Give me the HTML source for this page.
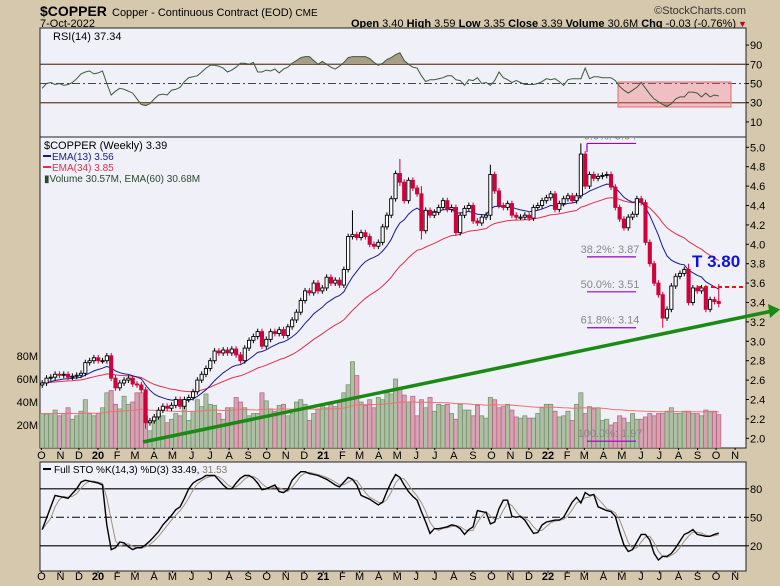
<!DOCTYPE html>
<html><head><meta charset="utf-8">
<style>
html,body{margin:0;padding:0;background:#d5c8ad;}
svg{display:block;font-family:"Liberation Sans","DejaVu Sans",sans-serif;}
</style></head>
<body>
<svg id="chart" width="780" height="586" viewBox="0 0 780 586" xmlns="http://www.w3.org/2000/svg">
<rect x="0" y="0" width="780" height="586" fill="#d5c8ad"/>
<g>
<text x="40" y="16" font-size="14" font-weight="bold" fill="#000">$COPPER</text>
<text x="112" y="16" font-size="11" fill="#000">Copper - Continuous Contract (EOD) <tspan font-size="10">CME</tspan></text>
<text x="40" y="27" font-size="11" fill="#000">7-Oct-2022</text>
<text x="746" y="14" font-size="11" fill="#333" text-anchor="end">©StockCharts.com</text>
<text x="736" y="27" font-size="11" fill="#000" text-anchor="end"><tspan font-weight="bold">Open</tspan> 3.40 <tspan font-weight="bold">High</tspan> 3.59 <tspan font-weight="bold">Low</tspan> 3.35 <tspan font-weight="bold">Close</tspan> 3.39 <tspan font-weight="bold">Volume</tspan> 30.6M <tspan font-weight="bold">Chg</tspan> -0.03 (-0.76%)</text>
<text x="738" y="27" font-size="9" fill="#c00020">▼</text>
</g>
<rect x="40" y="28" width="706" height="109" fill="#eff0f8" stroke="#222" stroke-width="1"/>
<rect x="40" y="137" width="706" height="311" fill="#eff0f8" stroke="#222" stroke-width="1"/>
<rect x="40" y="462" width="706" height="109" fill="#eff0f8" stroke="#222" stroke-width="1"/>
<defs>
<clipPath id="clipRsiHi"><rect x="40" y="28" width="706" height="36.2"/></clipPath>
<clipPath id="clipRsiLo"><rect x="40" y="102.7" width="706" height="34"/></clipPath>
<clipPath id="clipMain"><rect x="40" y="137" width="740" height="311"/></clipPath>
</defs>
<g id="layer"></g>
</svg>
<script>
// ---- data ----
const closes = [2.57,2.62,2.63,2.66,2.65,2.66,2.63,2.64,2.65,2.67,2.78,2.80,2.83,
2.80,2.80,2.85,2.62,2.52,
2.57,2.60,2.62,2.56,
2.55,2.50,2.16,2.18,
2.22,2.29,2.33,2.31,
2.34,2.40,2.33,2.40,2.42,
2.48,2.60,2.66,2.72,
2.80,2.90,2.88,2.91,2.88,
2.92,2.86,2.80,2.93,
3.01,3.05,3.10,2.95,
3.02,3.10,3.08,3.12,3.06,
3.15,3.22,3.30,3.42,
3.52,3.50,3.60,3.52,
3.55,3.66,3.60,3.63,3.58,
3.74,4.08,4.10,4.07,
4.12,4.08,4.00,3.98,
4.02,4.18,4.30,4.47,4.73,
4.64,4.45,4.66,4.58,
4.52,4.14,4.35,4.30,
4.33,4.38,4.45,4.36,4.38,
4.12,4.30,4.37,4.40,
4.24,4.22,4.28,4.30,
4.72,4.55,4.40,4.38,4.42,
4.30,4.28,
4.28,4.30,4.27,4.38,4.40,4.45,4.48,4.52,4.36,4.42,4.47,4.50,4.45,4.50,
4.93,4.60,4.72,4.68,4.70,4.71,4.72,4.59,4.38,4.26,4.17,4.28,4.31,4.47,4.43,4.02,3.80,3.60,3.48,3.24,3.33,3.57,3.67,3.70,3.74,3.40,3.55,3.52,3.55,3.33,3.43,3.41,3.39];
const firstOpen = 2.55;
const spikeIdx  = [24,72,83,88,104,125,140,144,150,157];
const spikeHigh = [2.52,4.35,4.88,4.60,4.82,5.04,4.45,3.50,3.80,3.59];
const spikeLow  = [2.10,4.05,4.60,4.05,4.25,4.48,4.00,3.14,3.38,3.35];
const volumes = [30,29,30,33,28,30,35,25,28,32,42,30,28,
30,35,48,50,38, 34,45,38,40, 48,48,28,15, 26,30,28,22, 25,30,28,40,24,
32,42,36,47, 38,37,30,25,35, 35,44,40,35, 28,30,30,48, 41,34,32,37,38,
28,30,40,42, 38,24,30,34, 37,35,38,36,41, 48,55,75,63, 40,37,42,35,
44,42,48,47,60, 52,46,40,45, 28,42,35,44, 32,38,37,38,30, 25,38,33,33,
28,37,28,26, 44,42,35,36,38, 33,27,
26,28,26,26,30,35,38,38,32,27,28,32,24,38,
48,30,36,34,35,24,25,20,22,28,26,22,30,25,25,27,30,28,30,30,32,35,30,30,32,32,30,30,28,33,32,32,29];
const rsi = [45,50,51,49,50,48,49,51,55,60,62,63,60,61,63,50,38,42,45,44,42,40,34,28,27,29,34,38,39,38,
43,44,46,52,56,57,58,62,66,69,69,68,66,62,64,67,71,71,70,72,62,62,64,63,65,61,65,67,71,74,
77,78,78,74,70,73,70,67,65,68,72,77,78,78,78,78,76,72,69,71,75,77,80,82,74,70,67,66,58,52,
54,54,55,56,58,58,54,53,48,54,53,56,50,51,48,53,62,56,54,51,53,51,49,49,49,50,52,55,54,55,
52,48,54,55,55,55,66,55,57,57,56,56,56,53,47,43,40,43,46,51,45,39,34,31,28,26,29,34,36,36,
41,41,40,36,40,36,38,37];
const stoK = [37,49,61,73,72,71,70,75,80,87,89,88,87,86,84,42,16,18,24,23,19,16,18,18,21,25,30,35,42,47,
52,58,61,70,80,86,89,91,94,94,94,89,84,80,80,86,91,94,94,91,86,79,80,82,84,77,76,79,89,94,
98,98,96,95,94,92,90,87,84,82,87,92,90,84,73,71,69,66,63,66,77,87,95,92,84,77,72,68,56,45,
33,38,38,39,40,42,41,38,32,37,40,57,56,55,43,45,59,68,68,51,50,51,47,40,33,34,42,45,46,47,
47,50,58,66,71,65,76,73,74,61,59,57,56,51,35,21,14,16,24,32,32,26,12,5,9,9,12,18,25,32,
34,37,32,31,30,30,32,33.5];
const priceTicks = [5.0,4.8,4.6,4.4,4.2,4.0,3.8,3.6,3.4,3.2,3.0,2.8,2.6,2.4,2.2,2.0];
const volTicks = [80,60,40,20];
const rsiTicks = [90,70,50,30,10];
const stoTicks = [80,50,20];
const monthLetters = ['J','F','M','A','M','J','J','A','S','O','N','D'];
const fibLabels = ['0.0%: 5.04','38.2%: 3.87','50.0%: 3.51','61.8%: 3.14','100.0%: 1.97'];
const fibPrices = [5.04,3.87,3.51,3.14,1.97];

// ---- scales ----
const NS='http://www.w3.org/2000/svg';
const layer=document.getElementById('layer');
const tJan20=Date.UTC(2020,0,1);
const PXDAY=450/731;
const xDate=d=>97+((d-tJan20)/86400000)*PXDAY;
const t0=Date.UTC(2019,9,4);
const xi=i=>xDate(t0)+i*7*PXDAY;
const yP=p=>147.3+(5-p)*97;
const yV=v=>448-v*1.15;
const yR=v=>83.5-(v-50)*0.96;
const yS=v=>517.3-(v-50)*0.95;
function mk(tag,at,parent){const e=document.createElementNS(NS,tag);for(const k in at)e.setAttribute(k,at[k]);(parent||layer).appendChild(e);return e;}
function tx(x,y,s,at,parent){const e=mk('text',Object.assign({x:x,y:y},at),parent);e.textContent=s;return e;}
const N=closes.length;
const opens=closes.map((c,i)=>i?closes[i-1]:firstOpen);
const highs=closes.map((c,i)=>Math.max(c,opens[i])+0.03);
const lows=closes.map((c,i)=>Math.min(c,opens[i])-0.03);
spikeIdx.forEach((k,j)=>{highs[k]=Math.max(highs[k],spikeHigh[j]);lows[k]=Math.min(lows[k],spikeLow[j]);});
function ema(arr,n){const k=2/(n+1);const out=[];let e=arr[0];arr.forEach((v,i)=>{e=i?v*k+e*(1-k):v;out.push(e);});return out;}
const ema13=ema(closes,13), ema34=ema(closes,34), vema=ema(volumes,60);
const stoD=stoK.map((v,i)=>{const s=stoK.slice(Math.max(0,i-2),i+1);return s.reduce((a,b)=>a+b,0)/s.length;});
const poly=(arr,fy)=>arr.map((v,i)=>xi(i).toFixed(1)+','+fy(v).toFixed(1)).join(' ');

// ---- RSI panel ----
const rg=mk('g',{});


[70,30].forEach(v=>{const l=mk('line',{x1:40,x2:746,y1:yR(v),y2:yR(v),stroke:'#6b4a36','stroke-width':1.3},rg);

});
const mid=mk('line',{x1:40,x2:746,y1:yR(50),y2:yR(50),stroke:'#444','stroke-width':1,'stroke-dasharray':'8,3,2,3'},rg);


const rsiPts=poly(rsi,yR);
const fh=mk('polygon',{points:rsiPts+' '+xi(N-1)+','+yR(70)+' '+xi(0)+','+yR(70),fill:'#a89e88','clip-path':'url(#clipRsiHi)'},rg);


const fl=mk('polygon',{points:rsiPts+' '+xi(N-1)+','+yR(30)+' '+xi(0)+','+yR(30),fill:'#a89e88','clip-path':'url(#clipRsiLo)'},rg);


const box=mk('rect',{x:618,y:82,width:113,height:25,fill:'rgba(240,110,110,0.38)',stroke:'#f07a7a','stroke-width':1.2},rg);


const rl=mk('polyline',{points:rsiPts,fill:'none',stroke:'#3d5a3a','stroke-width':1},rg);


const rt=tx(53,40,'RSI(14) 37.34',{'font-size':11,fill:'#000'},rg);


rsiTicks.forEach(v=>{const t=tx(750,yR(v)+4,String(v),{'font-size':11,fill:'#000'},rg);


mk('line',{x1:746,x2:749,y1:yR(v),y2:yR(v),stroke:'#000'},rg);});

// ---- main panel ----
const mg=mk('g',{'clip-path':'url(#clipMain)'});


volumes.forEach((v,i)=>{const up=i===0||closes[i]>=closes[i-1];
const b=mk('rect',{x:xi(i)-2.1,y:yV(v),width:4.2,height:448-yV(v),fill:up?'#aebfa6':'#d6a3b3',stroke:up?'#6f8f66':'#b5607c','stroke-width':0.7},mg);

});
const vl=mk('polyline',{points:poly(vema,yV),fill:'none',stroke:'#f07070','stroke-width':1},mg);


const e34=mk('polyline',{points:poly(ema34,yP),fill:'none',stroke:'#e0304a','stroke-width':1},mg);


const e13=mk('polyline',{points:poly(ema13,yP),fill:'none',stroke:'#1a1a90','stroke-width':1},mg);


closes.forEach((c,i)=>{const o=opens[i];const up=c>=o;const x=xi(i);const col=up?'#000':'#d0003a';
const w=mk('line',{x1:x,x2:x,y1:yP(highs[i]),y2:yP(lows[i]),stroke:col,'stroke-width':1},mg);


const top=yP(Math.max(o,c)),h=Math.max(1,yP(Math.min(o,c))-top);
const b=mk('rect',{x:x-1.6,y:top,width:3.2,height:h,fill:up?'#fff':'#d0003a',stroke:col,'stroke-width':0.9},mg);

});
// fib
fibPrices.forEach((p,j)=>{const y=yP(p);
const l=mk('line',{x1:587,x2:636,y1:y,y2:y,stroke:'#9a00d0','stroke-width':1.2},mg);


const t=tx(610,y-4,fibLabels[j],{'font-size':11,fill:'#888','text-anchor':'middle'},mg);

});
const fibStem=mk('line',{x1:587,x2:587,y1:yP(5.04),y2:yP(4.95),stroke:'#9a00d0','stroke-width':1.2},mg);


// trend line
const tl=mk('line',{x1:143,y1:442,x2:770,y2:311.5,stroke:'#1a8a14','stroke-width':3.5},mg);


const ah=mk('polygon',{points:'780,309.5 768,304 770,318',fill:'#1a8a14'},mg);


const rd=mk('line',{x1:697,x2:746,y1:yP(3.56),y2:yP(3.56),stroke:'#ee1111','stroke-width':2,'stroke-dasharray':'4,3'},mg);


const tt=tx(692,267,'T 3.80',{'font-size':17,'font-weight':'bold',fill:'#1010dd'},mg);


// legend
const lg=mk('g',{});


tx(44,149,'$COPPER (Weekly) 3.39',{'font-size':11,fill:'#000'},lg);
mk('rect',{x:43,y:155,width:8,height:2,fill:'#1a1a90'},lg);
tx(52,160,'EMA(13) 3.56',{'font-size':10,fill:'#1a1a90'},lg);
mk('rect',{x:43,y:166,width:8,height:2,fill:'#e0304a'},lg);
tx(52,171,'EMA(34) 3.85',{'font-size':10,fill:'#e0304a'},lg);
tx(44,182,'▮Volume 30.57M, EMA(60) 30.68M',{'font-size':10,fill:'#2a4a2a'},lg);
priceTicks.forEach(v=>{const t=tx(750,yP(v)+4,v.toFixed(1),{'font-size':11,fill:'#000'});


mk('line',{x1:746,x2:749,y1:yP(v),y2:yP(v),stroke:'#000'});});
volTicks.forEach(v=>{const t=tx(38,yV(v)+4,v+'M',{'font-size':11,fill:'#000','text-anchor':'end'});

});

// ---- STO panel ----
const sg=mk('g',{});


[80,20].forEach(v=>{const l=mk('line',{x1:40,x2:746,y1:yS(v),y2:yS(v),stroke:'#000','stroke-width':1.2},sg);

});
const sm=mk('line',{x1:40,x2:746,y1:yS(50),y2:yS(50),stroke:'#000','stroke-width':1,'stroke-dasharray':'8,3,2,3'},sg);


const dl=mk('polyline',{points:poly(stoD,yS),fill:'none',stroke:'#a09080','stroke-width':1},sg);


const kl=mk('polyline',{points:poly(stoK,yS),fill:'none',stroke:'#000','stroke-width':1.4},sg);


mk('rect',{x:43,y:468,width:8,height:2,fill:'#000'},sg);
const st=tx(54,473,'Full STO %K(14,3) %D(3) 33.49, ',{'font-size':10,fill:'#000'},sg);


const ts=mk('tspan',{fill:'#8a7a6a'},st);ts.textContent='31.53';
stoTicks.forEach(v=>{const t=tx(750,yS(v)+4,String(v),{'font-size':11,fill:'#000'},sg);


mk('line',{x1:746,x2:749,y1:yS(v),y2:yS(v),stroke:'#000'},sg);});

// ---- month axes ----
for(let m=0;m<38;m++){const yr=2019+Math.floor((9+m)/12),mo=(9+m)%12;
const x=xDate(Date.UTC(yr,mo,1))+1;const lab=mo===0?String(yr).slice(2):monthLetters[mo];
[459,580].forEach(y=>{const t=tx(x,y,lab,{'font-size':11,fill:'#000','text-anchor':'middle','font-weight':mo===0?'bold':'normal'});

});
[448,571].forEach(y=>mk('line',{x1:x,x2:x,y1:y,y2:y+2,stroke:'#000'}));}
</script>
</body></html>
